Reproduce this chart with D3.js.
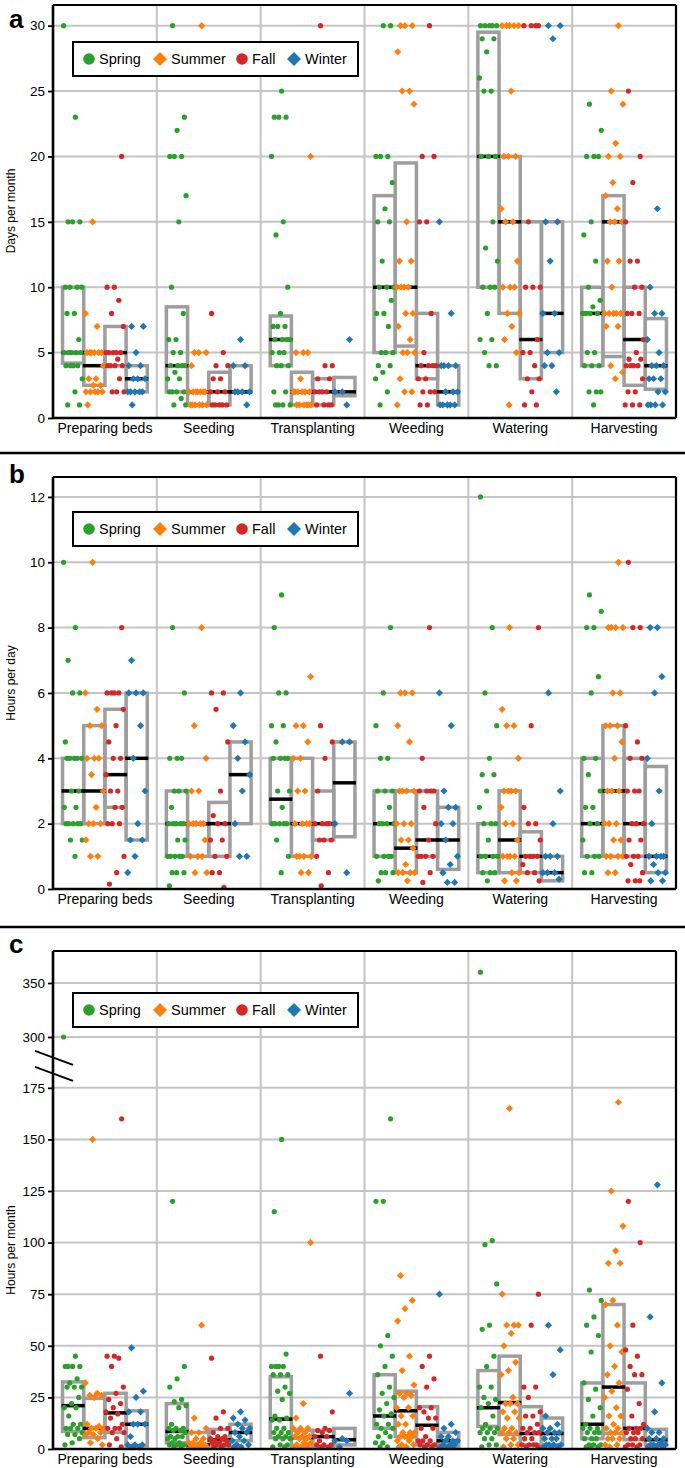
<!DOCTYPE html>
<html><head><meta charset="utf-8">
<script src="https://cdn.jsdelivr.net/npm/d3@7"></script>
<style>body{margin:0;background:#fff}</style>
</head><body><svg id="c" width="685" height="1468"></svg>
<script>
const categories = ["Preparing beds","Seeding","Transplanting","Weeding","Watering","Harvesting"];
const seasons = ["Spring","Summer","Fall","Winter"];
const seasonColors = ["#2ca02c","#ff7f0e","#d62728","#1f77b4"];
const seasonShapes = ["circle","diamond","circle","diamond"];
const daysTicks = [0,5,10,15,20,25,30];
const hoursDayTicks = [0,2,4,6,8,10,12];
const hoursMonthTicks = [0,25,50,75,100,125,150,175,300,350];

// ---- Panel a: days per month. Boxes [q1, median, q3] per category
const daysBoxSpring = [[4.2,5,10],[2,4,8.5],[4,6,7.8],[5,10,17],[10,20,29.5],[4,8,10]];
const daysBoxSummer = [[2.5,4,5],[1,2,2],[1,2,3.5],[5.5,10,19.5],[8,15,20],[4.7,15,17]];
const daysBoxFall   = [[4,5,7],[1,2,3.5],[1,2,3],[3,4,8],[3,6,15],[2.5,6,10]];
const daysBoxWinter = [[2,3,4],[2,2,4],[1.7,2,3.1],[1,2,4],[5,8,15],[2.2,4,7.6]];
const daysSpring = [
 [30,23,15,15,15,10,10,10,10,8,8,6,5,5,5,5,5,4,4,4,4,3,2,1,1],
 [30,23,22,20,20,20,17,15,10,8,6,6,5,5,4,4,4,4,3.5,3,3,2,2,2,2,1.5,1,1],
 [25,23,23,23,20,15,14,10,8,7,7,7,6,6,6,6,5,5,5,4,4,4,2,2,1,1,1,1],
 [30,30,20,20,20,18,16,15,15,12,10,10,10,9,8,8,7,5,5,5,4,4,3.5,3,2,1],
 [30,30,30,30,30,29,29,28,26,25,25,20,20,20,15,13,12,10,10,10,8,6,6,5,4,4],
 [24,22,20,20,20,15,14,12,10,9,8.5,8,8,8,8,5,5,4,4,4,2,2,2,1]
];
const daysSummer = [
 [15,8,7,5,5,5,5,5,5,4,3,3,2.5,2.5,2,2,2,2,2,1],
 [30,5,5,5,4,2,2,2,2,2,2,2,1,1,1,1,1,1],
 [20,5,5,5,3,2,2,2,2,2,2,1,1,1,1,1,1],
 [30,30,30,28,25,25,24,15,12,12,10,10,10,10,8,8,7,6,5,5,5,3,2,2,1],
 [30,30,30,30,30,25,20,20,20,16,15,15,12,10,10,10,8,8,7,6,5,1],
 [30,25,24,21,20,20,18,17,16,15,15,15,12,12,10,8,8,8,8,8,7,7,4,3.5,3]
];
const daysFall = [
 [20,10,10,9,8,7,5,5,5,5,5,4.5,4,4,4,4,3,2,2,2],
 [8,5,4,4,3,3,2,2,2,1,1,1,1,1],
 [30,4,4,3,3,2,2,2,2,1,1,1,1],
 [30,20,20,15,15,8,5,4,4,4,4,3,3,2,2,2,1,1],
 [30,30,30,30,15,10,10,10,6,5,5,4,3,3,2,1,1],
 [25,20,18,15,12,12,10,10,8,8,8,6,5,4.5,4.5,4,4,4,4,3,2,2,1,1,1]
];
const daysWinter = [
 [7,7,5,4,4,3,3,3,2,2,2,2,2,1],
 [6,4,4,2,2,2,2,1],
 [6,2,2,1],
 [15,8,4,4,4,4,2,2,2,1,1,1,1,1],
 [30,30,29,15,15,12,8,8,5,5,4,4,2],
 [16,10,8,8,6,5,4,4,4,3,3,3,2,2,1,1,1,1]
];

// ---- Panel b: hours per day
const hdBoxSpring = [[2,3,4],[1,2,3],[2,2.75,4],[1,2,3],[0.5,1,2],[1,2,4]];
const hdBoxSummer = [[2,3,5],[1,2,2],[1,2,4],[0.5,1.25,3],[0.5,1.5,3],[1,3,5]];
const hdBoxFall   = [[2.5,3.5,5.5],[1,2,2.65],[1.5,2,3],[1,1.5,3],[0.5,1,1.75],[1,2,4]];
const hdBoxWinter = [[1.5,4,6],[2,3.5,4.5],[1.6,3.25,4.5],[0.6,1.5,2.5],[0.25,0.5,1],[0.5,1,3.75]];
const hdSpring = [
 [10,8,7,6,6,4.5,4,4,4,4,4,3,3,2.5,2.5,2,2,2,2,2,1.5,1.5,1],
 [8,6,4,4,4,3,3,3,2.5,2,2,2,2,2,1.5,1.5,1,1,1,1,1,0.5,0.5,0.5,0.1],
 [9,8,6,6,5,5,4.5,4,4,4,4,3,3,2.5,2,2,2,2,2,1.5,1,0.5],
 [8,6,5,4,4,3,3,3,2.5,2,2,2,2,1,1,1,1,0.5,0.5,0.5,0.25],
 [12,8,6,5,4,3.5,3.5,3,2.5,2,2,2,1.5,1,1,1,1,0.5,0.5,0.5,0.25],
 [9,8.5,8,8,6.5,6,4,4,3.5,3,2.5,2.5,2,2,1.5,1,1,1,0.5,0.5]
];
const hdSummer = [
 [10,6,5.5,5,5,4,4,4,3.5,3,2.5,2,2,2,1.5,1,1],
 [8,5,4,3,3,2,2,2,2,2,1.5,1,1,1,0.5,0.5],
 [6.5,5,5,4.5,4,4,3,3,2,2,2,2,1,1,1,1,0.5,0.5],
 [6,6,6,5,4.5,3,3,3,3,2,2,2,1.5,1.5,1.25,0.75,0.5,0.5,0.5,0.5,0.25],
 [8,5.5,5,5,4,3,3,3,3,2.5,2,2,1.5,1,1,1,1,0.5,0.5,0.25,0.25],
 [10,8,8,8,8,6,6,5,5,5,4.5,4,3,3,3,2,2,2,1.5,1.5,1,1,1,1,0.5,0.5]
];
const hdFall = [
 [8,6,6,6,6,5.5,5,4.5,4,4,3.5,3,3,2.5,2.5,2,2,2,1,0.5,0.15],
 [6,6,5.5,4.5,3,2.25,2,2,1.5,1.5,1,1,0.5,0.5,0.05],
 [5,4.5,4,3,2,2,2,2,1.5,1.5,1.5,1,0.5,0.1],
 [8,4,3,3,3,3,2.5,2,1.5,1,1,1,1,0.5,0.2],
 [8,5,2.5,2,2,1.5,1,1,1,1,0.75,0.5,0.5,0.25],
 [10,8,8,5,4.5,4,4,3,3,3,2,2,2,1.5,1.5,1,1,1,0.75,0.5,0.25,0.25,0.25]
];
const hdWinter = [
 [7,6,6,6,5,4,3,2,1.5,1.5,1,0.5],
 [6,5,4.5,4,3.5,3,2,1,1],
 [4.5,4.5,2,0.5],
 [6,5,3,2.5,2.5,2,2,1.5,1,0.75,0.5,0.2,0.2],
 [6,3,2,1,1,1,0.5,0.5,0.5,0.3],
 [8,8,6.5,6,4,3,2,1,1,1,1,0.75,0.5,0.5,0.25,0.25]
];

// ---- Panel c: hours per month
const hmBoxSpring = [[8.5,21,32.5],[3,8.5,22],[5.5,14.5,35],[10,16,36],[11,20,38],[5,12,32]];
const hmBoxSummer = [[5.5,10,24.5],[1,2,8],[0.5,5.5,9],[6,18.5,28],[7,22.5,45],[7.5,30,70]];
const hmBoxFall   = [[8,17.5,27],[1.5,4.5,9.5],[1,6,9],[2,11.5,20.5],[2,7.5,20.5],[4.5,10,32]];
const hmBoxWinter = [[1.5,12,18.5],[4,8,12],[2,4.5,10],[1,4,8],[2,7.5,15],[2,4.5,9.5]];
const hmSpring = [
 [300,45,40,40,40,40,34,32,30,30,30,25,22,20,20,16,12,12,10,10,10,8,7,7,5,3,2],
 [120,40,34,30,24,23,21,20,12,10,10,10,9,9,8,6,6,6,5,5,3,3,2,2,2,1,1],
 [150,115,46,40,40,40,40,36,36,36,30,28,27,24,16,15,14,14,10,10,8,8,8,6,6,5,5,5,2,2,1,1],
 [160,120,120,55,50,45,40,36,30,27,25,22,19,17,16,12,12,10,10,8,6,6,3,3,1,1],
 [360,101,99,80,60,58,45,40,30,30,25,24,22,20,16,12,10,10,10,8,8,8,5,5,2,2,1],
 [77,72,64,60,55,47,32,29,24,20,16,12,10,10,10,8,8,8,5,5,5,2,2,2,1,1,1]
];
const hmSummer = [
 [150,32,27,26,26,25,12,11,10,10,10,8,8,7,7,5,3,2],
 [60,15,10,8,8,5,5,3,3,3,2,2,2,2,1,1,1],
 [100,22,15,10,10,10,8,8,6,6,6,5,5,3,3,2,2,1,1,1],
 [84,72,68,62,45,38,31,27,27,26,25,20,20,16,16,12,12,8,8,8,6,6,6,6,4,4,2,2,1,1],
 [165,75,60,60,60,56,50,42,38,36,25,22,22,22,18,18,15,15,10,10,8,8,8,5,5,2,2,1],
 [168,125,108,96,90,90,72,70,60,50,47,40,36,32,28,25,20,16,16,12,10,10,8,8,8,5,5,5,2,2,1]
];
const hmFall = [
 [160,45,45,44,40,30,27,24,22,20,18,17,15,12,10,10,10,8,8,5,2,1],
 [44,18,15,10,10,8,6,6,5,5,4,4,3,3,2,2,2,1,1],
 [45,18,10,9,9,8,6,6,4,2,2,2,1,1],
 [45,40,34,30,20,20,18,15,15,10,10,6,4,4,4,2,2,2,1,1],
 [75,60,30,30,25,18,16,16,12,10,10,8,8,8,5,5,2,2,2,2,1,1],
 [120,100,60,48,45,40,36,36,29,22,16,12,10,10,10,8,8,8,5,5,5,2,2,2,1,1]
];
const hmWinter = [
 [49,28,25,18,18,12,12,12,6,2,2,2,1,1],
 [18,15,14,12,10,10,8,8,6,4,4,2,2,1,1],
 [27,5,4,4,1],
 [75,12,10,8,6,6,4,4,4,2,2,2,1,1,1],
 [60,48,36,16,12,10,10,8,8,8,5,5,5,2,2,2,2,1,1,1],
 [128,64,32,18,10,8,8,5,5,5,3,2,2,2,2,1,1,1]
];

// ---------------------------------------------------------------
const FONT = "'Liberation Sans', Arial, Helvetica, sans-serif";
const svg = d3.select("#c");
const X0 = 53, X1 = 676;
const x = d3.scaleBand().domain(categories).range([X0, X1]);
const xs = d3.scaleBand().domain(seasons).range([0, x.bandwidth()]).paddingOuter(0.45);

const panels = [
  {label:"a", ylab:"Days per month", top:5, bottom:418, legendY:42, ticks:daysTicks,
   y: d3.scaleLinear().domain([0, 31.58]).range([418, 5]),
   boxes:[daysBoxSpring,daysBoxSummer,daysBoxFall,daysBoxWinter],
   points:[daysSpring,daysSummer,daysFall,daysWinter], labelY:28, ylabY:211},
  {label:"b", ylab:"Hours per day", top:477, bottom:889, legendY:512, ticks:hoursDayTicks,
   y: d3.scaleLinear().domain([0, 12.61]).range([889, 477]),
   boxes:[hdBoxSpring,hdBoxSummer,hdBoxFall,hdBoxWinter],
   points:[hdSpring,hdSummer,hdFall,hdWinter], labelY:483, ylabY:683},
  {label:"c", ylab:"Hours per month", top:951, bottom:1449, legendY:993, ticks:hoursMonthTicks,
   y: d3.scaleLinear().domain([0, 180, 290, 380]).range([1449, 1077.5, 1047.8, 950.6]),
   boxes:[hmBoxSpring,hmBoxSummer,hmBoxFall,hmBoxWinter],
   points:[hmSpring,hmSummer,hmFall,hmWinter], labelY:953, ylabY:1250, broken:true}
];

function diamond(cx, cy, r) {
  return `M${cx},${cy-r}L${cx+r},${cy}L${cx},${cy+r}L${cx-r},${cy}Z`;
}

panels.forEach(p => {
  const g = svg.append("g");
  const y = p.y;
  g.append("g").selectAll("line").data(p.ticks).join("line")
    .attr("x1", X0).attr("x2", X1).attr("y1", d => y(d)).attr("y2", d => y(d))
    .attr("stroke", "#c4c4c4").attr("stroke-width", 2);
  g.append("g").selectAll("line").data(categories.slice(1)).join("line")
    .attr("x1", d => x(d)).attr("x2", d => x(d)).attr("y1", p.top).attr("y2", p.bottom)
    .attr("stroke", "#c4c4c4").attr("stroke-width", 2);

  const boxData = [];
  seasons.forEach((s, si) => categories.forEach((c, ci) => {
    const q = p.boxes[si][ci];
    boxData.push({s, c, q1:q[0], med:q[1], q3:q[2]});
  }));
  g.append("g").selectAll("rect").data(boxData).join("rect")
    .attr("x", d => x(d.c) + xs(d.s)).attr("width", xs.bandwidth())
    .attr("y", d => y(d.q3)).attr("height", d => y(d.q1) - y(d.q3))
    .attr("fill", "none").attr("stroke", "#9e9e9e").attr("stroke-width", 3.5);
  g.append("g").selectAll("line").data(boxData).join("line")
    .attr("x1", d => x(d.c) + xs(d.s) - 1).attr("x2", d => x(d.c) + xs(d.s) + xs.bandwidth() + 1)
    .attr("y1", d => y(d.med)).attr("y2", d => y(d.med))
    .attr("stroke", "#000").attr("stroke-width", 3.5);

  const pts = [];
  seasons.forEach((s, si) => categories.forEach((c, ci) => {
    p.points[si][ci].forEach((v, i) => {
      const j = ((i * 0.6180339 + ci * 0.27 + si * 0.41) % 1) - 0.5; // layout jitter only
      pts.push({s, si, c, v, j});
    });
  }));
  const pg = g.append("g");
  pts.forEach(d => {
    const cx = x(d.c) + xs(d.s) + xs.bandwidth() / 2 + d.j * xs.bandwidth() * 0.9;
    const cy = y(d.v);
    if (seasonShapes[d.si] === "circle") {
      pg.append("circle").attr("cx", cx).attr("cy", cy).attr("r", 2.6).attr("fill", seasonColors[d.si]);
    } else {
      pg.append("path").attr("d", diamond(cx, cy, 3.6)).attr("fill", seasonColors[d.si]);
    }
  });

  g.append("line").attr("x1", X0).attr("x2", X1).attr("y1", p.top).attr("y2", p.top).attr("stroke", "#000").attr("stroke-width", 2.2);
  g.append("line").attr("x1", X1).attr("x2", X1).attr("y1", p.top).attr("y2", p.bottom).attr("stroke", "#000").attr("stroke-width", 2.2);
  g.append("line").attr("x1", X0).attr("x2", X1).attr("y1", p.bottom).attr("y2", p.bottom).attr("stroke", "#000").attr("stroke-width", 2.6);

  const ax = g.append("g").attr("transform", `translate(${X0},0)`)
    .call(d3.axisLeft(y).tickValues(p.ticks).tickFormat(d3.format("d")).tickSize(5).tickPadding(3).tickSizeOuter(0));
  ax.select(".domain").attr("stroke-width", 2.6).attr("d", `M0,${p.top}V${p.bottom}`);
  ax.selectAll(".tick line").attr("stroke-width", 1.8);
  ax.selectAll("text").attr("font-family", FONT).attr("font-size", 13.5).attr("fill", "#000");

  if (p.broken) {
    const yb = (y(175) + y(300)) / 2 + 3.5;
    [-8, 8].forEach(o => {
      g.append("line").attr("x1", 35).attr("x2", 73)
        .attr("y1", yb + o - 7).attr("y2", yb + o + 7)
        .attr("stroke", "#000").attr("stroke-width", 2);
    });
  }

  g.append("g").selectAll("text").data(categories).join("text")
    .attr("x", d => x(d) + x.bandwidth() / 2).attr("y", p.bottom + 15)
    .attr("text-anchor", "middle").attr("font-family", FONT).attr("font-size", 14)
    .text(d => d);

  g.append("text").attr("transform", `translate(15,${p.ylabY}) rotate(-90)`)
    .attr("text-anchor", "middle").attr("font-family", FONT).attr("font-size", 12).text(p.ylab);

  g.append("text").attr("x", 9).attr("y", p.labelY).attr("font-family", FONT)
    .attr("font-weight", "bold").attr("font-size", 26).text(p.label);

  const lg = g.append("g").attr("transform", `translate(73,${p.legendY})`);
  lg.append("rect").attr("width", 285).attr("height", 34).attr("fill", "#fff").attr("stroke", "#000").attr("stroke-width", 2);
  const offs = [[16, 26], [87, 98], [169, 179], [221, 232]];
  seasons.forEach((s, si) => {
    const [mx, tx] = offs[si];
    if (seasonShapes[si] === "circle") lg.append("circle").attr("cx", mx).attr("cy", 17).attr("r", 5.8).attr("fill", seasonColors[si]);
    else lg.append("path").attr("d", diamond(mx, 17, 7)).attr("fill", seasonColors[si]);
    lg.append("text").attr("x", tx).attr("y", 22).attr("font-family", FONT).attr("font-size", 14.5).text(s);
  });
});

[453, 927].forEach(yy => svg.append("line").attr("x1", 0).attr("x2", 685).attr("y1", yy).attr("y2", yy)
  .attr("stroke", "#000").attr("stroke-width", 2.5));
</script></body></html>
